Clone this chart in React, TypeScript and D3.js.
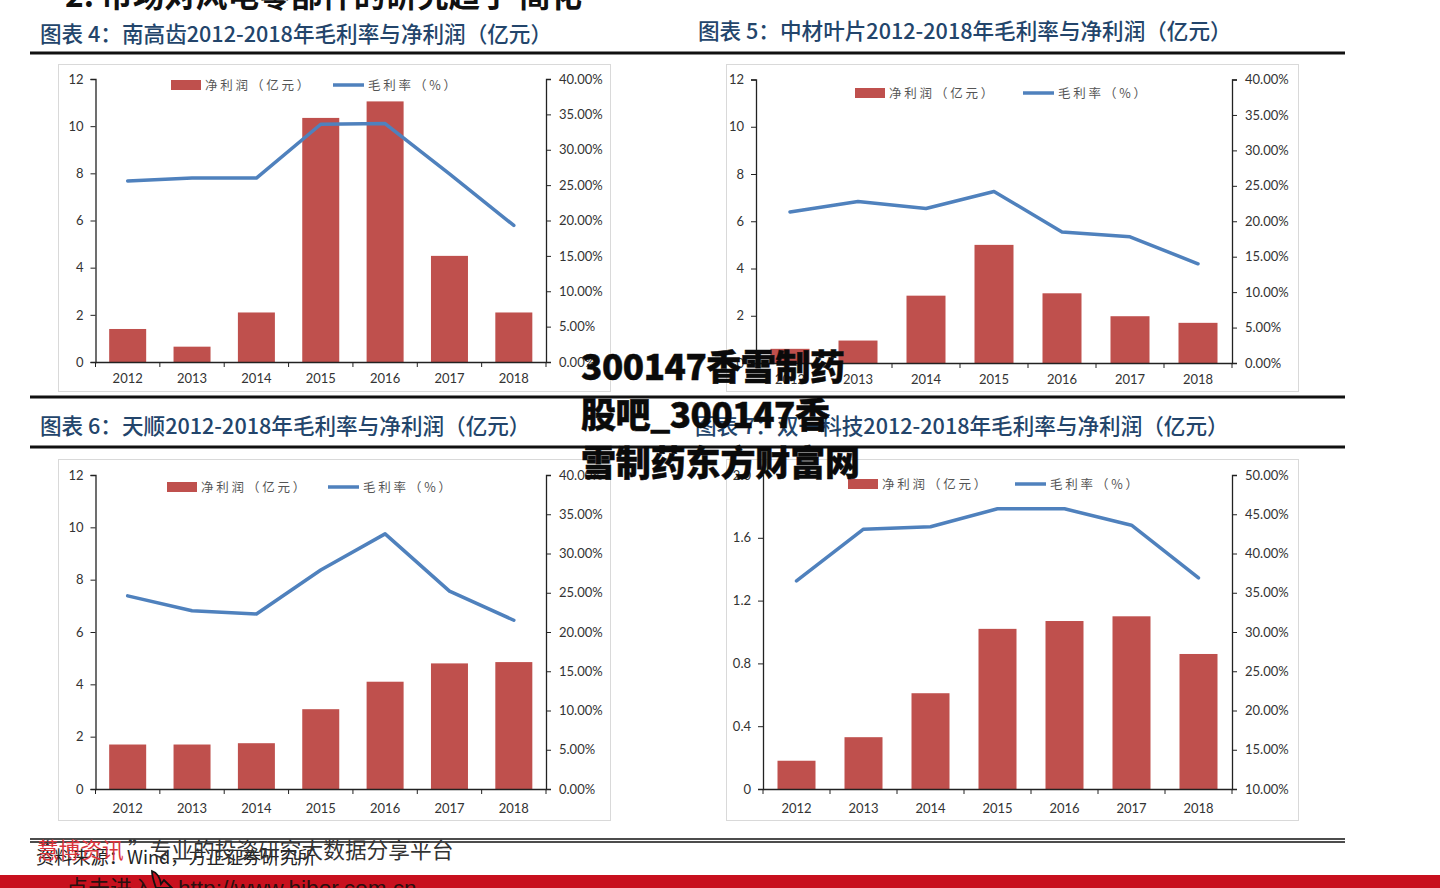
import React, { useRef, useEffect } from 'react';
import * as d3 from 'd3';

const years = ['2012', '2013', '2014', '2015', '2016', '2017', '2018'];

const profit4 = [1.4, 0.65, 2.1, 10.35, 11.05, 4.5, 2.1];
const margin4 = [25.6, 26.0, 26.0, 33.6, 33.7, 26.6, 19.3];

const profit5 = [0.6, 0.95, 2.85, 5.0, 2.95, 1.98, 1.7];
const margin5 = [21.3, 22.8, 21.8, 24.2, 18.5, 17.8, 14.0];

const profit6 = [1.7, 1.7, 1.75, 3.05, 4.1, 4.8, 4.85];
const margin6 = [24.6, 22.7, 22.3, 27.9, 32.5, 25.2, 21.5];

const profit7 = [0.18, 0.33, 0.61, 1.02, 1.07, 1.1, 0.86];
const margin7 = [36.5, 43.1, 43.4, 45.7, 45.7, 43.6, 36.9];

const ticksA = [0, 2, 4, 6, 8, 10, 12];
const ticksB = [0, 0.4, 0.8, 1.2, 1.6, 2.0];
const pctA = [0, 5, 10, 15, 20, 25, 30, 35, 40];
const pctB = [10, 15, 20, 25, 30, 35, 40, 45, 50];

const legendBar = '净利润（亿元）';
const legendLine = '毛利率（%）';
const overlayLines = ['300147香雪制药', '股吧_300147香', '雪制药东方财富网'];
const overlayWidths = [264, 249, 279];

const charts = [
	{ box: [58, 64, 552, 327], x: [95.5, 546], y: [362, 79], profit: profit4, margin: margin4, left: ticksA, right: pctA, barW: 37, leg: [171, 85, 333], pad: 12 },
	{ box: [726, 64, 572, 327], x: [756, 1232], y: [363, 79.5], profit: profit5, margin: margin5, left: ticksA, right: pctA, barW: 39, leg: [855, 93, 1023], pad: 12 },
	{ box: [58, 459, 552, 361], x: [95.5, 546], y: [789, 475], profit: profit6, margin: margin6, left: ticksA, right: pctA, barW: 37, leg: [167, 487, 328], pad: 15 },
	{ box: [726, 459, 572, 361], x: [763, 1232], y: [789, 475], profit: profit7, margin: margin7, left: ticksB, right: pctB, barW: 38, leg: [848, 484, 1015], pad: 15 },
];

const titles = [
	{ text: '图表 4：南高齿2012-2018年毛利率与净利润（亿元）', x: 40, y: 42 },
	{ text: '图表 5：中材叶片2012-2018年毛利率与净利润（亿元）', x: 698, y: 39 },
	{ text: '图表 6：天顺2012-2018年毛利率与净利润（亿元）', x: 40, y: 434 },
	{ text: '图表 7：双一科技2012-2018年毛利率与净利润（亿元）', x: 695, y: 434 },
];

const rules = [53, 397, 447, 839, 842];

const cjk = '"Noto Sans CJK SC", "Noto Sans", sans-serif';
const latin = 'Lato, "Open Sans", sans-serif';

const App = () => {
	const ref = useRef<SVGSVGElement>(null);

	useEffect(() => {
		const svg = d3.select(ref.current);
		svg.selectAll('*').remove();

		svg.append('rect').attr('x', 0).attr('y', 875).attr('width', 1440).attr('height', 13).attr('fill', '#c8101e');

		svg.append('text')
			.attr('x', 65)
			.attr('y', 7)
			.attr('font-family', cjk)
			.attr('font-weight', 700)
			.attr('font-size', 31.6)
			.attr('fill', '#111')
			.text('2. 市场对风电零部件的研究趋于 简化');

		titles.forEach((t) => {
			svg.append('text')
				.attr('x', t.x)
				.attr('y', t.y)
				.attr('font-family', cjk)
				.attr('font-weight', 500)
				.attr('font-size', 21.6)
				.attr('fill', '#23456b')
				.text(t.text);
		});

		rules.forEach((y) => {
			svg.append('line')
				.attr('x1', 30)
				.attr('x2', 1345)
				.attr('y1', y)
				.attr('y2', y)
				.attr('stroke', '#111')
				.attr('stroke-width', y > 800 ? 1.6 : 2.8);
		});

		charts.forEach((c) => {
			const g = svg.append('g');

			g.append('rect')
				.attr('x', c.box[0] + 0.5)
				.attr('y', c.box[1] + 0.5)
				.attr('width', c.box[2])
				.attr('height', c.box[3])
				.attr('fill', '#fff')
				.attr('stroke', '#d9d9d9');

			const xScale = d3.scaleBand().domain(years).range(c.x as [number, number]);
			const yLeft = d3.scaleLinear().domain([c.left[0], c.left[c.left.length - 1]]).range(c.y as [number, number]);
			const yRight = d3.scaleLinear().domain([c.right[0], c.right[c.right.length - 1]]).range(c.y as [number, number]);

			g.selectAll('rect.bar')
				.data(c.profit)
				.join('rect')
				.attr('class', 'bar')
				.attr('x', (d, i) => xScale(years[i])! + xScale.bandwidth() / 2 - c.barW / 2)
				.attr('y', (d) => yLeft(d))
				.attr('width', c.barW)
				.attr('height', (d) => yLeft(c.left[0]) - yLeft(d))
				.attr('fill', '#bf504d');

			const line = d3
				.line<number>()
				.x((d, i) => xScale(years[i])! + xScale.bandwidth() / 2)
				.y((d) => yRight(d));

			g.append('path')
				.attr('d', line(c.margin))
				.attr('fill', 'none')
				.attr('stroke', '#4f81bd')
				.attr('stroke-width', 3.5)
				.attr('stroke-linejoin', 'round')
				.attr('stroke-linecap', 'round');

			const leftAxis = d3
				.axisLeft(yLeft)
				.tickValues(c.left)
				.tickSize(5)
				.tickPadding(7)
				.tickFormat((d) => (c.left === ticksB && +d !== 0 ? (+d).toFixed(1) : String(d)));
			const rightAxis = d3
				.axisRight(yRight)
				.tickValues(c.right)
				.tickSize(5)
				.tickPadding(8)
				.tickFormat((d) => (+d).toFixed(2) + '%');
			const bottomAxis = d3.axisBottom(xScale).tickSize(0).tickPadding(c.pad);

			const gl = g.append('g').attr('transform', `translate(${c.x[0]},0)`).call(leftAxis);
			const gr = g.append('g').attr('transform', `translate(${c.x[1]},0)`).call(rightAxis);
			const gb = g.append('g').attr('transform', `translate(0,${c.y[0]})`).call(bottomAxis);

			/* category ticks sit on the band edges, not the centres */
			gb.selectAll('line.edge')
				.data(years.concat(['end']))
				.join('line')
				.attr('class', 'edge')
				.attr('x1', (d, i) => c.x[0] + i * xScale.step())
				.attr('x2', (d, i) => c.x[0] + i * xScale.step())
				.attr('y1', 0)
				.attr('y2', 5)
				.attr('stroke', '#222');

			[gl, gr, gb].forEach((a) => {
				a.attr('font-family', latin).attr('font-size', 13);
				a.selectAll('text').attr('fill', '#333');
				a.selectAll('path.domain').attr('stroke', '#222').attr('stroke-width', 1.3);
				a.selectAll('.tick line').attr('stroke', '#222');
			});

			const [lx, ly, lx2] = c.leg;
			g.append('rect').attr('x', lx).attr('y', ly - 5).attr('width', 30).attr('height', 10).attr('fill', '#bf504d');
			g.append('line').attr('x1', lx2).attr('x2', lx2 + 31).attr('y1', ly).attr('y2', ly).attr('stroke', '#4f81bd').attr('stroke-width', 3.5);
			[
				[lx + 34, legendBar],
				[lx2 + 35, legendLine],
			].forEach(([tx, label]) => {
				g.append('text')
					.attr('x', tx)
					.attr('y', ly + 5)
					.attr('font-family', cjk)
					.attr('font-size', 12.5)
					.attr('letter-spacing', 2.8)
					.attr('fill', '#555')
					.text(label as string);
			});
		});

		/* footer text overlaps on purpose, same as the page */
		svg.append('text')
			.attr('x', 36)
			.attr('y', 864)
			.attr('font-family', cjk)
			.attr('font-size', 18.2)
			.attr('fill', '#222')
			.text('资料来源：Wind，方正证券研究所');

		const promo = svg.append('text').attr('y', 858).attr('font-family', cjk).attr('font-size', 21.7).attr('fill', '#333');
		promo.append('tspan').attr('x', 28).text('“');
		promo.append('tspan').attr('x', 37).attr('fill', '#d9343c').text('慧博资讯');
		promo.append('tspan').attr('x', 128).text('”专业的投资研究大数据分享平台');

		svg.append('text')
			.attr('x', 66)
			.attr('y', 896)
			.attr('font-family', cjk)
			.attr('font-size', 22)
			.attr('fill', '#2a1010')
			.text('点击进入');
		svg.append('text')
			.attr('x', 178)
			.attr('y', 896)
			.attr('font-family', '"Liberation Sans", sans-serif')
			.attr('font-size', 22.6)
			.attr('fill', '#2a1010')
			.text('http://www.hibor.com.cn');
		svg.append('path')
			.attr('d', 'M152 871 C158 873 160 878 161 884 L164 880 L169 885 L172 888 L156 888 C154 882 152 877 152 871 Z')
			.attr('fill', '#c8101e')
			.attr('stroke', '#111')
			.attr('stroke-width', 1.8);

		overlayLines.forEach((l, i) => {
			svg.append('text')
				.attr('x', 581)
				.attr('y', 380 + i * 48)
				.attr('font-family', cjk)
				.attr('font-weight', 900)
				.attr('font-size', 35)
				.attr('textLength', overlayWidths[i])
				.attr('fill', '#0a0a0a')
				.attr('stroke', '#0a0a0a')
				.attr('stroke-width', 0.5)
				.text(l);
		});
	}, []);

	return <svg ref={ref} width={1440} height={888} style={{ position: 'absolute', left: 0, top: 0, background: '#fff' }} />;
};

export default App;
